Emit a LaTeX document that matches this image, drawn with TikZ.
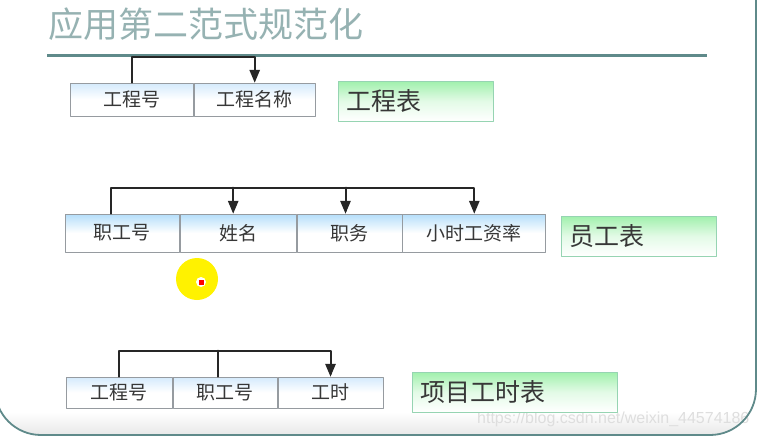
\documentclass[tikz,border=0pt]{standalone}
\usepackage{fontspec}
\newfontfamily\cjk{Noto Sans CJK SC}
\newfontfamily\wmfont{Liberation Sans}
\usetikzlibrary{arrows}
\definecolor{framegray}{RGB}{95,138,138}
\definecolor{titlegray}{RGB}{150,178,178}
\definecolor{cellline}{RGB}{150,155,160}
\definecolor{celltext}{RGB}{55,55,55}
\definecolor{cellblue}{RGB}{180,222,250}
\definecolor{paleblue}{RGB}{212,234,252}
\definecolor{boxgreen}{RGB}{160,240,172}
\definecolor{boxline}{RGB}{150,212,178}
\definecolor{bandgray}{RGB}{230,230,230}
\definecolor{wmgray}{RGB}{222,222,222}

\begin{document}
\begin{tikzpicture}[line cap=round,line join=round,>=triangle 45,x=1pt,y=1pt,
	cell/.style={draw=cellline,line width=0.8pt,top color=#1,bottom color=white,middle color=white,
		inner sep=0pt,anchor=west,text=celltext,font=\cjk\fontsize{19}{19}\selectfont},
	cell/.default=paleblue,
	tablebox/.style={draw=boxline,line width=0.8pt,top color=boxgreen,bottom color=white,middle color=boxgreen!30,
		inner xsep=8pt,minimum height=40pt,align=left,anchor=west,text=celltext,
		font=\cjk\fontsize{25}{25}\selectfont},
	conn/.style={draw=black!85,line width=2pt}]
		\useasboundingbox (0,0) rectangle (757,-437);
		% frame of the slide
		\begin{scope}
			\clip[rounded corners=46pt] (-5,60) rectangle (756,-435);
			\shade[top color=white,bottom color=bandgray] (-5,-412) rectangle (756,-437);
		\end{scope}
		\node[font=\wmfont\fontsize{16}{16}\selectfont,text=wmgray,anchor=west,inner sep=0pt] (wm) at (477,-419) {https://blog.csdn.net/weixin\_44574186};
		\draw[framegray,line width=1.8pt,rounded corners=46pt] (-5,60) rectangle (756,-435);
		% title
		\node[font=\cjk\fontsize{35}{35}\selectfont,text=titlegray,anchor=west,inner sep=0pt] (title) at (48,-24) {应用第二范式规范化};
		\draw[framegray,line width=3pt,line cap=butt] (47,-55) -- (707,-55);
		% 工程表
		\node[cell,minimum width=123pt,minimum height=33pt] (p1) at (70,-99.5) {工程号};
		\node[cell,minimum width=121pt,minimum height=33pt] (p2) at (p1.east) {工程名称};
		\node[tablebox,text width=139pt] (ptab) at (338,-101) {工程表};
		\draw[conn,->] (p1.north) -- ++(0,26) -| (p2.north);
		% 员工表
		\node[cell=cellblue,minimum width=114pt,minimum height=38pt] (e1) at (65,-233) {职工号};
		\node[cell=cellblue,minimum width=116pt,minimum height=38pt] (e2) at (e1.east) {姓名};
		\node[cell=cellblue,minimum width=105pt,minimum height=38pt] (e3) at (e2.east) {职务};
		\node[cell=cellblue,minimum width=143pt,minimum height=38pt] (e4) at (e3.east) {小时工资率};
		\node[tablebox,text width=139pt] (etab) at (561,-236) {员工表};
		\coordinate (e1top) at ([xshift=-11pt]e1.north);
		\draw[conn,->] (e1top) -- ++(0,26) coordinate (ecorner) -| (e4.north);
		\draw[conn,->] ([xshift=-5pt]e2.north |- ecorner) -- ([xshift=-5pt]e2.north);
		\draw[conn,->] ([xshift=-4pt]e3.north |- ecorner) -- ([xshift=-4pt]e3.north);
		% 项目工时表
		\node[cell,minimum width=106pt,minimum height=31pt] (t1) at (66,-392.5) {工程号};
		\node[cell,minimum width=104pt,minimum height=31pt] (t2) at (t1.east) {职工号};
		\node[cell,minimum width=105pt,minimum height=31pt] (t3) at (t2.east) {工时};
		\node[tablebox,text width=189pt] (ttab) at (412,-392) {项目工时表};
		\draw[conn,->] (t1.north) -- ++(0,26) coordinate (tcorner) -| (t3.north);
		\draw[conn] ([xshift=-7pt]t2.north |- tcorner) -- ([xshift=-7pt]t2.north);
		% pointer
		\fill[yellow] (197,-279) circle (21pt);
		\fill[white] (201,-282) circle (5pt);
		\fill[red] (198.5,-279.5) rectangle (203.5,-284.5);
	\end{tikzpicture}
\end{document}
